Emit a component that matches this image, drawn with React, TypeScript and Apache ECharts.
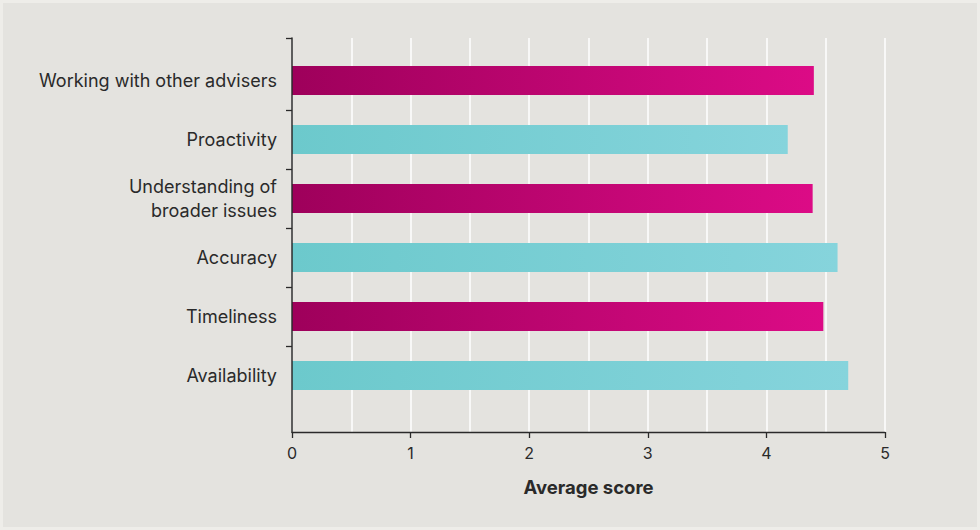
import React, { useEffect, useRef } from "react";
import * as echarts from "echarts";

const categories = [
  "Working with other advisers",
  "Proactivity",
  "Understanding of\nbroader issues",
  "Accuracy",
  "Timeliness",
  "Availability",
];
const scores = [4.4, 4.18, 4.39, 4.6, 4.48, 4.69];
const colorGroup = ["pink", "teal", "pink", "teal", "pink", "teal"];
const xTicks = [0, 1, 2, 3, 4, 5];
const axisName = "Average score";

const gradients: Record<string, [string, string]> = {
  pink: ["#9e005b", "#dc0b86"],
  teal: ["#6cc9cc", "#86d4dc"],
};

export default function App() {
  const ref = useRef<HTMLDivElement>(null);
  useEffect(() => {
    document.body.style.margin = "0";
    if (!ref.current) return;
    const chart = echarts.init(ref.current, undefined, { renderer: "svg" });
    const font = "Inter, 'Liberation Sans', Arial, sans-serif";
    const dark = "#2a2a2a";
    const data = scores.map((v, i) => {
      const [c0, c1] = gradients[colorGroup[i]];
      return {
        value: v,
        itemStyle: {
          color: new echarts.graphic.LinearGradient(0, 0, 1, 0, [
            { offset: 0, color: c0 },
            { offset: 1, color: c1 },
          ]),
        },
      };
    });
    chart.setOption({
      animation: false,
      backgroundColor: "transparent",
      textStyle: { fontFamily: font },
      grid: [
        { left: 292, right: 95, top: 38, bottom: 98, containLabel: false },
        { left: 292, right: 95, top: 51, bottom: 125, containLabel: false },
      ],
      xAxis: [
        {
          gridIndex: 0,
          type: "value",
          min: xTicks[0],
          max: xTicks[xTicks.length - 1],
          interval: 1,
          axisLine: { show: true, onZero: false, lineStyle: { color: dark, width: 1.3 } },
          axisTick: { show: true, length: 6, lineStyle: { color: dark, width: 1.3 } },
          axisLabel: { fontSize: 16, color: dark, margin: 13, fontFamily: font },
          splitLine: { show: true, lineStyle: { color: "#ffffff", width: 1.5 } },
          minorTick: { show: false, splitNumber: 2 },
          minorSplitLine: { show: true, lineStyle: { color: "#ffffff", width: 1.5 } },
          name: axisName,
          nameLocation: "middle",
          nameGap: 45,
          nameTextStyle: { fontSize: 18.5, fontWeight: "bold", color: dark, fontFamily: font },
          z: 0,
        },
        {
          gridIndex: 1,
          type: "value",
          min: 0,
          max: 5,
          show: false,
        },
      ],
      yAxis: [
        {
          gridIndex: 0,
          type: "value",
          inverse: true,
          min: -0.72,
          max: 5.96,
          axisLine: { show: true, onZero: false, lineStyle: { color: dark, width: 1.5 } },
          axisTick: {
            show: true,
            length: 6,
            customValues: [-0.72, 0.5, 1.5, 2.5, 3.5, 4.5],
            lineStyle: { color: dark, width: 1.3 },
          },
          axisLabel: { show: false },
          splitLine: { show: false },
          z: 5,
        },
        {
          gridIndex: 1,
          type: "category",
          inverse: true,
          data: categories,
          axisLine: { show: false },
          axisTick: { show: false },
          axisLabel: {
            fontSize: 18,
            color: dark,
            margin: 15,
            lineHeight: 24,
            align: "right",
            fontFamily: font,
          },
          splitLine: { show: false },
        },
      ],
      series: [
        {
          type: "bar",
          xAxisIndex: 1,
          yAxisIndex: 1,
          data,
          barWidth: 29,
          z: 2,
        },
      ],
    });
    return () => chart.dispose();
  }, []);
  return (
    <div
      style={{
        width: 980,
        height: 530,
        background: "#e4e3df",
        boxShadow: "inset 0 0 0 3px #eeede9",
        position: "relative",
      }}
    >
      <div ref={ref} style={{ width: 980, height: 530, position: "absolute", left: 0, top: 0 }} />
    </div>
  );
}
